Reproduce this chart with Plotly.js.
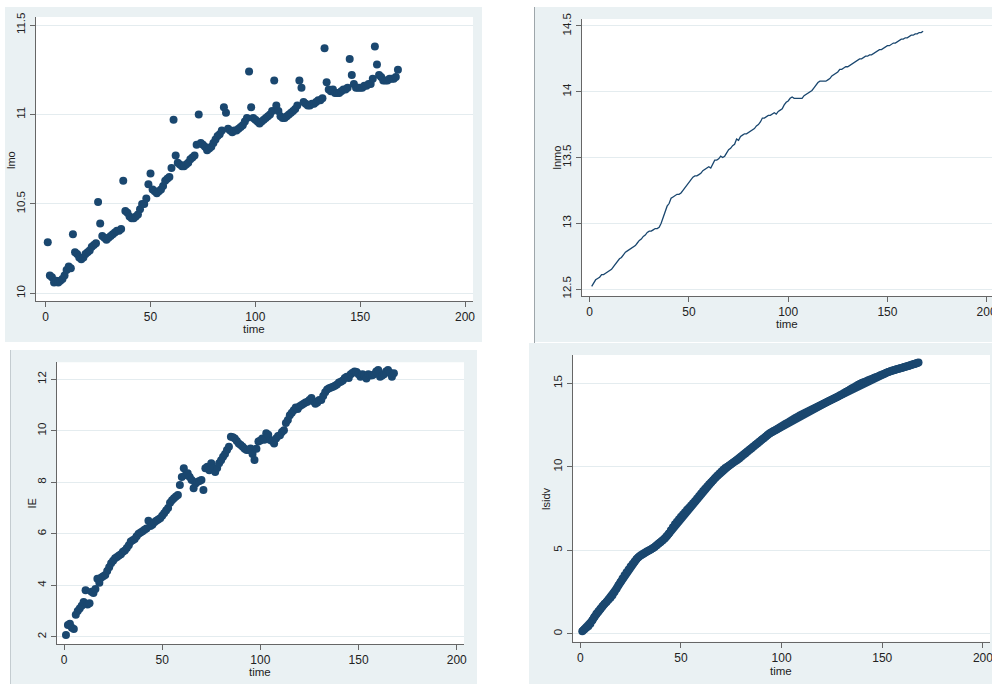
<!DOCTYPE html>
<html>
<head>
<meta charset="utf-8">
<script src="https://cdn.plot.ly/plotly-3.0.1.min.js"></script>
<style>html,body{margin:0;padding:0;background:#fff;}#chart{width:992px;height:684px;}</style>
</head>
<body>
<div id="chart"></div>
<script>
// ---------------- data ----------------
var time = [1,2,3,4,5,6,7,8,9,10,11,12,13,14,15,16,17,18,19,20,21,22,23,24,25,26,27,28,29,30,
31,32,33,34,35,36,37,38,39,40,41,42,43,44,45,46,47,48,49,50,51,52,53,54,55,56,57,58,59,60,
61,62,63,64,65,66,67,68,69,70,71,72,73,74,75,76,77,78,79,80,81,82,83,84,85,86,87,88,89,90,
91,92,93,94,95,96,97,98,99,100,101,102,103,104,105,106,107,108,109,110,111,112,113,114,115,116,117,118,119,120,
121,122,123,124,125,126,127,128,129,130,131,132,133,134,135,136,137,138,139,140,141,142,143,144,145,146,147,148,149,150,
151,152,153,154,155,156,157,158,159,160,161,162,163,164,165,166,167,168];

var lmo = [10.285,10.10,10.09,10.06,10.07,10.06,10.07,10.08,10.10,10.13,10.15,10.14,
10.33,10.23,10.22,10.20,10.19,10.20,10.22,10.23,10.24,10.26,10.27,10.28,
10.51,10.39,10.32,10.31,10.30,10.31,10.32,10.33,10.34,10.35,10.35,10.36,
10.63,10.46,10.45,10.43,10.42,10.42,10.43,10.44,10.47,10.50,10.50,10.53,
10.61,10.67,10.58,10.57,10.56,10.57,10.58,10.60,10.63,10.64,10.65,10.70,
10.97,10.77,10.73,10.72,10.71,10.71,10.72,10.73,10.75,10.76,10.77,10.83,
11.00,10.84,10.83,10.82,10.80,10.81,10.82,10.84,10.86,10.88,10.89,10.91,
11.04,11.01,10.92,10.91,10.90,10.91,10.91,10.92,10.93,10.94,10.96,10.98,
11.24,11.04,10.98,10.97,10.96,10.95,10.96,10.97,10.98,10.99,11.00,11.02,
11.19,11.05,11.02,10.99,10.98,10.98,10.99,11.00,11.01,11.02,11.03,11.05,
11.19,11.15,11.07,11.06,11.05,11.05,11.06,11.06,11.07,11.08,11.08,11.09,
11.37,11.18,11.14,11.13,11.14,11.12,11.12,11.12,11.13,11.14,11.14,11.15,
11.31,11.22,11.17,11.15,11.15,11.15,11.15,11.16,11.16,11.17,11.17,11.20,
11.38,11.28,11.22,11.21,11.19,11.19,11.19,11.20,11.20,11.20,11.21,11.25];

var lnmo = [12.52,12.55,12.57,12.58,12.59,12.61,12.61,12.62,12.63,12.64,
12.65,12.67,12.69,12.71,12.73,12.74,12.76,12.78,12.79,12.80,
12.81,12.82,12.83,12.85,12.87,12.88,12.90,12.91,12.93,12.94,
12.94,12.95,12.96,12.96,12.97,13.00,13.04,13.09,13.13,13.15,
13.19,13.20,13.21,13.22,13.22,13.23,13.25,13.27,13.29,13.31,
13.33,13.35,13.36,13.36,13.37,13.38,13.40,13.41,13.42,13.43,
13.42,13.45,13.48,13.48,13.49,13.51,13.50,13.51,13.54,13.56,
13.57,13.59,13.60,13.64,13.63,13.66,13.67,13.68,13.68,13.69,
13.70,13.71,13.72,13.74,13.75,13.77,13.80,13.80,13.81,13.82,
13.82,13.83,13.84,13.83,13.85,13.86,13.87,13.90,13.92,13.93,
13.95,13.96,13.95,13.95,13.95,13.95,13.95,13.97,13.98,13.99,
14.00,14.01,14.03,14.05,14.07,14.08,14.08,14.08,14.08,14.09,
14.10,14.12,14.13,14.14,14.15,14.17,14.17,14.18,14.19,14.19,
14.20,14.21,14.22,14.23,14.24,14.25,14.25,14.26,14.27,14.27,
14.28,14.28,14.29,14.30,14.31,14.32,14.32,14.33,14.34,14.35,
14.35,14.36,14.37,14.37,14.38,14.39,14.40,14.40,14.41,14.41,
14.42,14.43,14.43,14.44,14.44,14.45,14.45,14.46];

var IE = [2.07,2.45,2.5,2.35,2.3,2.85,3.0,3.1,3.2,3.35,
3.8,3.25,3.3,3.75,3.7,3.85,4.25,4.1,4.3,4.35,
4.4,4.55,4.7,4.85,4.95,5.05,5.1,5.15,5.2,5.3,
5.35,5.45,5.55,5.7,5.75,5.8,5.9,6.0,6.05,6.1,
6.15,6.2,6.5,6.3,6.35,6.45,6.5,6.55,6.6,6.7,
6.8,6.9,7.0,7.2,7.3,7.38,7.45,7.5,7.89,8.2,
8.54,8.28,8.35,8.2,8.09,7.77,7.95,8.02,8.05,8.09,
7.7,8.54,8.6,8.47,8.74,8.54,8.4,8.55,8.74,8.85,
8.99,9.1,9.25,9.38,9.77,9.75,9.7,9.6,9.51,9.45,
9.38,9.3,9.25,9.25,9.31,9.1,8.86,9.3,9.58,9.62,
9.7,9.65,9.9,9.85,9.64,9.6,9.51,9.7,9.8,9.83,
9.95,10.02,10.3,10.42,10.6,10.7,10.8,10.9,10.85,10.95,
11.0,11.05,11.1,11.13,11.2,11.27,11.15,11.05,11.1,11.2,
11.2,11.35,11.5,11.6,11.65,11.68,11.71,11.75,11.8,11.88,
11.9,11.95,12.05,12.1,12.05,12.2,12.25,12.3,12.28,12.2,
12.1,12.2,12.15,12.03,12.2,12.15,12.16,12.2,12.3,12.36,
12.1,12.15,12.2,12.3,12.36,12.25,12.1,12.23];

var lsidv = [0.15,0.25,0.35,0.45,0.6,0.8,1.0,1.2,1.35,1.5,
1.65,1.78,1.9,2.03,2.15,2.3,2.5,2.7,2.9,3.1,
3.3,3.5,3.68,3.85,4.02,4.18,4.33,4.48,4.6,4.7,
4.78,4.85,4.92,4.98,5.05,5.12,5.2,5.3,5.4,5.5,
5.6,5.72,5.85,6.0,6.2,6.38,6.55,6.7,6.85,7.0,
7.14,7.28,7.42,7.55,7.68,7.82,7.95,8.1,8.25,8.4,
8.55,8.68,8.82,8.95,9.08,9.2,9.33,9.46,9.58,9.7,
9.82,9.93,10.0,10.08,10.16,10.25,10.33,10.41,10.5,10.6,
10.7,10.8,10.9,11.0,11.1,11.2,11.3,11.4,11.5,11.6,
11.7,11.8,11.9,12.0,12.07,12.14,12.21,12.28,12.35,12.43,
12.5,12.57,12.64,12.71,12.79,12.86,12.93,13.0,13.07,13.13,
13.19,13.25,13.31,13.37,13.43,13.49,13.55,13.61,13.67,13.73,
13.79,13.85,13.91,13.97,14.03,14.09,14.15,14.21,14.28,14.35,
14.42,14.49,14.56,14.63,14.7,14.77,14.84,14.91,14.98,15.03,
15.08,15.13,15.18,15.23,15.28,15.33,15.38,15.43,15.48,15.53,
15.58,15.63,15.68,15.72,15.76,15.8,15.84,15.87,15.9,15.93,
15.97,16.0,16.04,16.08,16.12,16.16,16.2,16.24];

var xTickVals = [0,50,100,150,200];
var xTickText = ['0','50','100','150','200'];
var lmoTickVals = [10,10.5,11,11.5];
var lmoTickText = ['10','10.5','11','11.5'];
var lnmoTickVals = [12.5,13,13.5,14,14.5];
var lnmoTickText = ['12.5','13','13.5','14','14.5'];
var ieTickVals = [2,4,6,8,10,12];
var ieTickText = ['2','4','6','8','10','12'];
var lsidvTickVals = [0,5,10,15];
var lsidvTickText = ['0','5','10','15'];

// ---------------- layout helpers ----------------
var W = 992, H = 684;
var NAVY = '#1A476F';
var BG = '#EAF1F3';
var FONT = 'Liberation Sans, Arial, sans-serif';
function fx(px){ return px / W; }
function fy(py){ return 1 - py / H; }

function xax(dom, rng, anchor){
  return {domain:[fx(dom[0]),fx(dom[1])], range:rng, anchor:anchor,
    tickmode:'array', tickvals:xTickVals, ticktext:xTickText, ticklabeloverflow:'allow',
    showline:true, linecolor:'#666666', linewidth:1, ticks:'outside', ticklen:5, tickcolor:'#666666',
    showgrid:false, zeroline:false, fixedrange:true,
    tickfont:{family:FONT,size:12,color:'#222'}};
}
function yax(dom, rng, anchor, tv, tt){
  return {domain:[fy(dom[1]),fy(dom[0])], range:rng, anchor:anchor,
    tickmode:'array', tickvals:tv, ticktext:tt, tickangle:-90,
    showline:true, linecolor:'#666666', linewidth:1, ticks:'outside', ticklen:5, tickcolor:'#666666',
    showgrid:true, gridcolor:'#E4ECEF', gridwidth:1, zeroline:false, fixedrange:true,
    tickfont:{family:FONT,size:11.5,color:'#222'}};
}

var traces = [
  {x:time, y:lmo, xaxis:'x', yaxis:'y', type:'scatter', mode:'markers',
   marker:{color:NAVY, size:8, line:{width:0}}, hoverinfo:'x+y'},
  {x:time, y:lnmo, xaxis:'x2', yaxis:'y2', type:'scatter', mode:'lines',
   line:{color:NAVY, width:1.3}, hoverinfo:'x+y'},
  {x:time, y:IE, xaxis:'x3', yaxis:'y3', type:'scatter', mode:'markers',
   marker:{color:NAVY, size:8, line:{width:0}}, hoverinfo:'x+y'},
  {x:time, y:lsidv, xaxis:'x4', yaxis:'y4', type:'scatter', mode:'lines+markers',
   line:{color:NAVY, width:8}, marker:{color:NAVY, size:8, line:{width:0}}, hoverinfo:'x+y'}
];

function rect(x0,y0,x1,y1,color){
  return {type:'rect', xref:'paper', yref:'paper', x0:fx(x0), x1:fx(x1), y0:fy(y1), y1:fy(y0),
    fillcolor:color, line:{width:0}, layer:'below'};
}
function vline(x,y0,y1,color){
  return {type:'line', xref:'paper', yref:'paper', x0:fx(x), x1:fx(x), y0:fy(y1), y1:fy(y0),
    line:{color:color, width:1}, layer:'below'};
}

var shapes = [
  rect(5,7,482,342,BG),
  rect(535,7,992,342,BG),
  rect(10,350,477,684,BG),
  rect(529,343,992,684,BG),
  rect(36,17,473,301,'#ffffff'),
  rect(581.7,19,992,296,'#ffffff'),
  rect(56.7,362.3,464,644,'#ffffff'),
  rect(572.7,355,990,641.7,'#ffffff'),
  vline(534.5,7,343,'#9EA6AA'),
  vline(10.5,350,684,'#C4CCD0')
];

function ann(text, px, py, angle){
  return {text:text, xref:'paper', yref:'paper', x:fx(px), y:fy(py), showarrow:false,
    xanchor:'center', yanchor:'middle', textangle:angle||0,
    font:{family:FONT, size:angle?11:11.5, color:'#222'}};
}
var annotations = [
  ann('time', 254.5, 329),
  ann('time', 787, 323.5),
  ann('time', 260.3, 671.5),
  ann('time', 781, 670.5)
].concat([
  ann('lmo', 11, 160, -90),
  ann('lnmo', 556, 157.5, -90),
  ann('IE', 31, 503.5, -90),
  ann('lsidv', 546.7, 498.3, -90)
]);

var layout = {
  width:W, height:H, margin:{l:0,r:0,t:0,b:0},
  paper_bgcolor:'#ffffff', plot_bgcolor:'rgba(0,0,0,0)',
  showlegend:false, hovermode:'closest',
  font:{family:FONT},
  xaxis: xax([36,473], [-4.61,203.8], 'y'),
  yaxis: yax([17,301], [9.957,11.545], 'x', lmoTickVals, lmoTickText),
  xaxis2: xax([581.7,992], [-4.03,202.7], 'y2'),
  yaxis2: yax([19,296], [12.447,14.553], 'x2', lnmoTickVals, lnmoTickText),
  xaxis3: xax([56.7,464], [-3.72,203.7], 'y3'),
  yaxis3: yax([362.3,644], [1.716,12.66], 'x3', ieTickVals, ieTickText),
  xaxis4: xax([572.7,990], [-3.77,203.5], 'y4'),
  yaxis4: yax([355,641.7], [-0.479,16.696], 'x4', lsidvTickVals, lsidvTickText),
  shapes:shapes,
  annotations:annotations
};

Plotly.newPlot('chart', traces, layout, {displayModeBar:false, responsive:false});
</script>
</body>
</html>
